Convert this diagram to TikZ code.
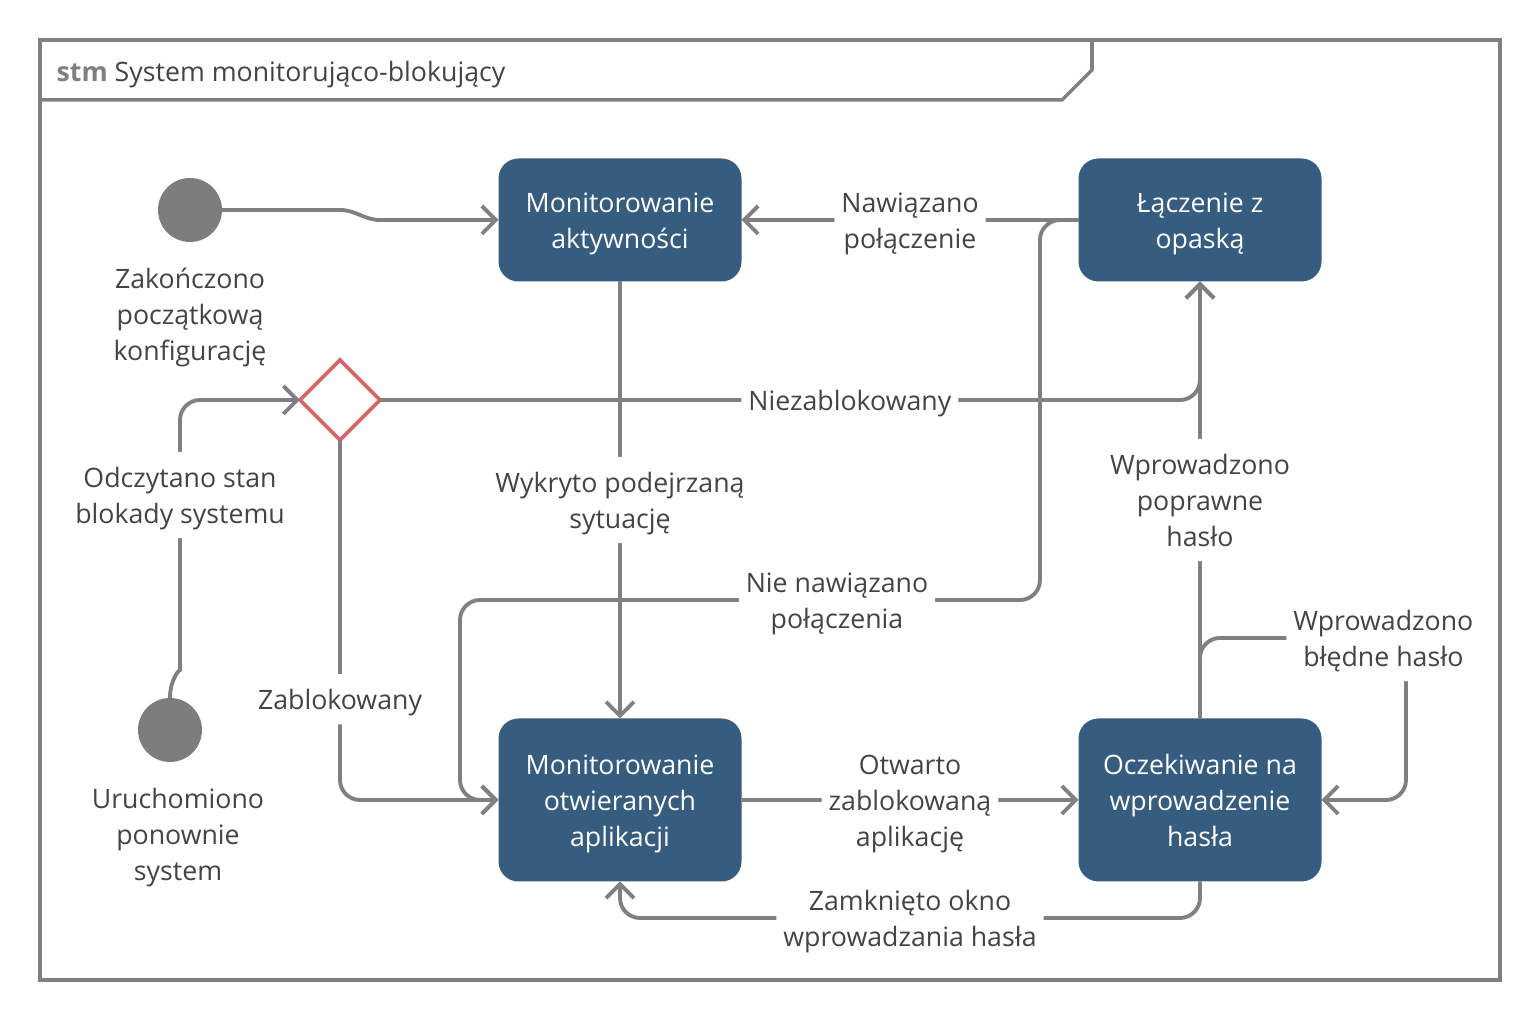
\documentclass[tikz,border=0pt]{standalone}
\usepackage{fontspec}
\usepackage{xcolor}
\setmainfont{Open Sans}
\usetikzlibrary{arrows.meta,shapes.geometric,positioning}
\definecolor{framegray}{RGB}{128,128,128}
\definecolor{linegray}{RGB}{128,128,128}
\definecolor{statefill}{RGB}{54,92,128}
\definecolor{labeltext}{RGB}{68,68,68}
\definecolor{stmgray}{RGB}{128,128,128}
\definecolor{choicered}{RGB}{217,100,111}
\definecolor{pseudogray}{RGB}{125,125,125}
\newcommand{\diagfont}{\fontsize{7.6}{10.25}\selectfont}
\tikzset{
  oneline/.style={text height=8.06pt, text depth=2.28pt},
  twoline/.style={text height=18.31pt, text depth=2.28pt},
  threeline/.style={text height=28.56pt, text depth=2.28pt},
  state/.style={rectangle, rounded corners=0.2cm, fill=statefill, text=white,
    minimum width=2.43cm, minimum height=1.23cm, align=center, inner sep=0,
    outer sep=0, font=\diagfont, twoline},
  tallstate/.style={state, minimum height=1.63cm, threeline},
  pseudo/.style={circle, fill=pseudogray, minimum size=0.64cm, inner sep=0, outer sep=0},
  choice/.style={diamond, draw=choicered, fill=white, line width=1.1pt, aspect=1,
    minimum width=0.8cm, minimum height=0.8cm, inner sep=0, outer sep=0},
  trans/.style={draw=linegray, line width=1.1pt, rounded corners=0.2cm,
    -{Straight Barb[length=1.4mm, width=2.8mm]}},
  lbl/.style={fill=white, text=labeltext, align=center, inner sep=0.07cm,
    font=\diagfont, oneline},
  pseudolbl/.style={text=labeltext, align=center, inner sep=0, font=\diagfont, threeline}
}

\begin{document}
\begin{tikzpicture}
\useasboundingbox (0,0) rectangle (15.4,-10.2);

% 1. FRAME & TITLE
\fill[white] (0,0) rectangle (15.4,-10.2);
\draw[framegray, line width=1pt] (0.4,-0.4) rectangle (15.0,-9.8);
\draw[framegray, line width=1pt] (0.4,-1.0) -- (10.62,-1.0) -- (10.92,-0.7) -- (10.92,-0.4);
\node[anchor=west, text=labeltext, inner sep=0, font=\diagfont, oneline] (title) at (0.56,-0.71)
  {\textcolor{stmgray}{\bfseries stm} System monitorująco-blokujący};

% 2. STATES
\node[state] (monakt) at (6.2,-2.2) {Monitorowanie\\aktywności};
\node[state] (laczenie) at (12.0,-2.2) {Łączenie z\\opaską};
\node[tallstate] (monotw) at (6.2,-8.0) {Monitorowanie\\otwieranych\\aplikacji};
\node[tallstate] (oczek) at (12.0,-8.0) {Oczekiwanie na\\wprowadzenie\\hasła};

% Pseudostates & choice
\node[pseudo] (start) at (1.9,-2.1) {};
\node[pseudolbl] (startlbl) at (1.9,-3.14) {Zakończono\\początkową\\konfigurację};
\node[pseudo] (restart) at (1.7,-7.3) {};
\node[pseudolbl] (restartlbl) at (1.78,-8.34) {Uruchomiono\\ponownie\\system};
\node[choice] (wybor) at (3.4,-4.0) {};

% 3. TRANSITIONS
\draw[trans, sharp corners] (start.east) -- (3.4,-2.1) to[out=0, in=180] (3.8,-2.2) -- (monakt.west);
\draw[trans] (laczenie.west) -- node[lbl, twoline]{Nawiązano\\połączenie} (monakt.east);
\draw[trans] (laczenie.west) -- (10.4,-2.2) -- (10.4,-6.0)
  -- node[lbl, twoline, pos=0.35]{Nie nawiązano\\połączenia} (4.6,-6.0) -- (4.6,-8.0) -- (monotw.west);
\draw[trans] (monakt.south) -- node[lbl, twoline]{Wykryto podejrzaną\\sytuację} (monotw.north);
\draw[trans] (restart.north) to[out=90, in=-90] (1.8,-6.5)
  -- node[lbl, twoline, pos=0.62]{Odczytano stan\\blokady systemu} (1.8,-4.0) -- (wybor.west);
\draw[trans] (wybor.east) -- node[lbl, pos=0.573]{Niezablokowany} (12.0,-4.0) -- (laczenie.south);
\draw[trans] (wybor.south) -- node[lbl, pos=0.72]{Zablokowany} (3.4,-8.0) -- (monotw.west);
\draw[trans] (oczek.north) -- node[lbl, threeline]{Wprowadzono\\poprawne\\hasło} (laczenie.south);
\draw[trans] (oczek.north) -- (12.0,-6.38)
  -- node[lbl, twoline, pos=0.89]{Wprowadzono\\błędne hasło} (14.06,-6.38) -- (14.06,-8.0) -- (oczek.east);
\draw[trans] (monotw.east) -- node[lbl, threeline]{Otwarto\\zablokowaną\\aplikację} (oczek.west);
\draw[trans] (oczek.south) -- (12.0,-9.18)
  -- node[lbl, twoline]{Zamknięto okno\\wprowadzania hasła} (6.2,-9.18) -- (monotw.south);

\end{tikzpicture}
\end{document}
